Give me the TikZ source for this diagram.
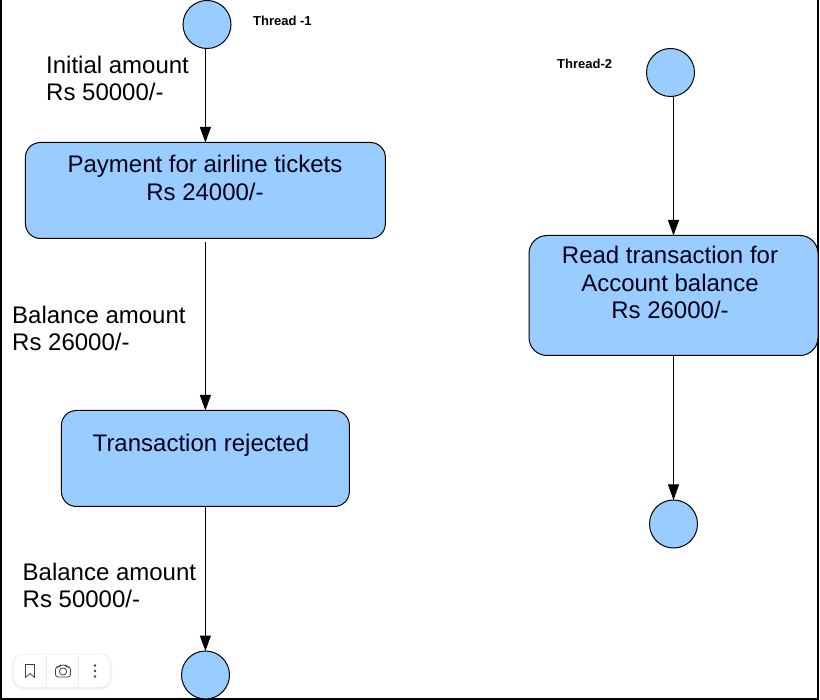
\documentclass[tikz,border=0pt]{standalone}
\usepackage{fontspec}
\setmainfont{Liberation Sans}
\usetikzlibrary{arrows.meta}
\definecolor{fillblue}{HTML}{99CCFF}
\tikzset{
  x=1pt,y=-1pt,
  edgeline/.style={draw=black,line width=1pt,-{Triangle[length=15.5pt,width=11pt]}},
  dotnode/.style={circle,draw=black,fill=fillblue,line width=1pt,minimum size=48pt,inner sep=0pt,outer sep=0pt},
  boxnode/.style={rectangle,rounded corners=15pt,draw=black,fill=fillblue,line width=1pt,inner sep=0pt,outer sep=0pt},
  bigtext/.style={font=\fontsize{24}{27.5}\selectfont,inner sep=0pt,align=center,text=black!90!blue},
  sidetext/.style={font=\fontsize{24}{27.5}\selectfont,inner sep=0pt,align=left,anchor=north west},
  threadtext/.style={font=\bfseries\fontsize{13}{14}\selectfont,inner sep=0pt,anchor=west},
  toolicon/.style={draw=black!75,line width=0.8pt,line join=round}
}
\begin{document}
\begin{tikzpicture}
\useasboundingbox (0,0) rectangle (820,700);
\fill[white] (0,0) rectangle (820,700);
\draw[black,line width=2pt] (1,0) -- (1,699) -- (818,699) -- (818,0);

\node[dotnode] (c1) at (207,24.5) {};
\node[boxnode,minimum width=360pt,minimum height=96pt] (b1) at (205.4,190.5) {};
\node[boxnode,minimum width=288pt,minimum height=96pt] (b2) at (205.4,458.5) {};
\node[dotnode] (c2) at (205.5,675) {};
\node[dotnode] (c3) at (670.5,72.5) {};
\node[boxnode,minimum width=289pt,minimum height=120pt,rounded corners=18pt] (b3) at (673.5,295.5) {};
\node[dotnode] (c4) at (673.5,524) {};

\draw[edgeline] ([xshift=-1.6pt]c1.south) -- (b1.north);
\draw[edgeline] ([yshift=-4pt]b1.south) -- (b2.north);
\draw[edgeline] (b2.south) -- (c2.north -| b2.south);
\draw[edgeline] ([xshift=3pt]c3.south) -- (b3.north);
\draw[edgeline] (b3.south) -- (c4.north);

\node[bigtext] (t1) at (205,178) {Payment for airline tickets\\Rs 24000/-};
\node[bigtext] (t2) at (201,445.5) {Transaction rejected};
\node[bigtext] (t3) at (670,282.5) {Read transaction for\\Account balance\\Rs 26000/-};
\node[sidetext] (s1) at (46,55.5) {Initial amount\\Rs 50000/-};
\node[sidetext] (s2) at (12,305.5) {Balance amount\\Rs 26000/-};
\node[sidetext] (s3) at (22.5,562.5) {Balance amount\\Rs 50000/-};
\node[threadtext] (l1) at (253,21) {Thread -1};
\node[threadtext] (l2) at (557,64) {Thread-2};

% viewer toolbar
\fill[black!3,rounded corners=11pt] (12,653.5) rectangle (112,690);
\fill[black!7,rounded corners=10pt] (13,654.5) rectangle (111,688.5);
\fill[white,rounded corners=9pt] (14,655) rectangle (110,687);
\draw[black!8,line width=0.6pt] (46.5,655) -- (46.5,687) (78.5,655) -- (78.5,687);
\draw[toolicon] (25.5,664.5) -- (34.5,664.5) -- (34.5,677.5) -- (30,673.5) -- (25.5,677.5) -- cycle;
\draw[toolicon,rounded corners=2.5pt] (55.5,667) -- (59,667) -- (60.5,665) -- (65.5,665) -- (67,667) -- (70.5,667) -- (70.5,677) -- (55.5,677) -- cycle;
\draw[toolicon] (63,671.5) circle (3.6pt);
\fill[black!75] (95,665.5) circle (1.3pt) (95,671) circle (1.3pt) (95,676.5) circle (1.3pt);
\end{tikzpicture}
\end{document}
